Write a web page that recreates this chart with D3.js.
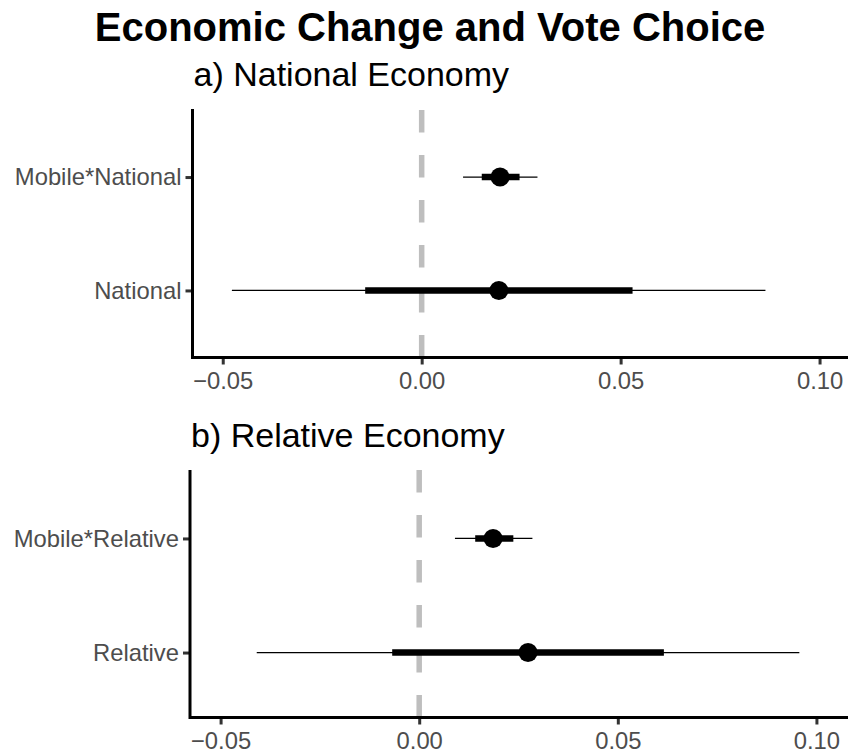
<!DOCTYPE html>
<html>
<head>
<meta charset="utf-8">
<script src="https://cdn.jsdelivr.net/npm/d3@7"></script>
<style>
  body { margin: 0; background: #fff; }
  svg text { font-family: "Liberation Sans", Arial, sans-serif; }
</style>
</head>
<body>
<div id="chart"></div>
<script>
// Data (estimate, inner = thick bar, outer = thin bar)
var mainTitle = "Economic Change and Vote Choice";
var panelTitles = ["a) National Economy", "b) Relative Economy"];
var xTicks = [-0.05, 0.00, 0.05, 0.10];

var nationalTerms   = ["Mobile*National", "National"];
var nationalEst     = [0.0197, 0.0194];
var nationalInnerLo = [0.0151, -0.0142];
var nationalInnerHi = [0.0246, 0.0530];
var nationalOuterLo = [0.0104, -0.0477];
var nationalOuterHi = [0.0291, 0.0864];

var relativeTerms   = ["Mobile*Relative", "Relative"];
var relativeEst     = [0.0186, 0.0274];
var relativeInnerLo = [0.0141, -0.0068];
var relativeInnerHi = [0.0237, 0.0616];
var relativeOuterLo = [0.0090, -0.0409];
var relativeOuterHi = [0.0285, 0.0957];

function buildRows(terms, est, inLo, inHi, outLo, outHi) {
  return terms.map(function(t, i) {
    return {term: t, est: est[i], inLo: inLo[i], inHi: inHi[i], outLo: outLo[i], outHi: outHi[i]};
  });
}

var width = 848, height = 755;

var svg = d3.select("#chart").append("svg")
  .attr("width", width)
  .attr("height", height);

// Main title
svg.append("text")
  .attr("x", 430)
  .attr("y", 41)
  .attr("text-anchor", "middle")
  .style("font-size", "40px")
  .style("font-weight", "bold")
  .attr("fill", "#000")
  .text(mainTitle);

/*
 * drawPanel - one coefficient plot
 * box -- {left, right, top, bottom, xDomain, titleY}
 */
function drawPanel(title, rows, box) {
  var g = svg.append("g");

  var x = d3.scaleLinear()
    .domain(box.xDomain)
    .range([box.left, box.right]);

  var y = d3.scalePoint()
    .domain(rows.map(function(d) { return d.term; }))
    .range([box.top, box.catBottom])
    .padding(0.6);

  // Panel title
  g.append("text")
    .attr("x", box.left + 1)
    .attr("y", box.titleY)
    .style("font-size", "34px")
    .attr("fill", "#000")
    .text(title);

  // Zero reference line, dashes start from the bottom like ggplot
  g.append("line")
    .attr("x1", x(0)).attr("x2", x(0))
    .attr("y1", box.bottom).attr("y2", box.top)
    .attr("stroke", "#bebebe")
    .attr("stroke-width", 5.5)
    .attr("stroke-dasharray", "22.5,22.5");

  // Outer (thin) intervals
  g.selectAll("line.outer")
    .data(rows)
    .enter()
    .append("line")
    .attr("class", "outer")
    .attr("x1", function(d) { return x(d.outLo); })
    .attr("x2", function(d) { return x(d.outHi); })
    .attr("y1", function(d) { return y(d.term); })
    .attr("y2", function(d) { return y(d.term); })
    .attr("stroke", "#000")
    .attr("stroke-width", 1.3);

  // Inner (thick) intervals
  g.selectAll("line.inner")
    .data(rows)
    .enter()
    .append("line")
    .attr("class", "inner")
    .attr("x1", function(d) { return x(d.inLo); })
    .attr("x2", function(d) { return x(d.inHi); })
    .attr("y1", function(d) { return y(d.term); })
    .attr("y2", function(d) { return y(d.term); })
    .attr("stroke", "#000")
    .attr("stroke-width", 6.5);

  // Point estimates
  g.selectAll("circle.est")
    .data(rows)
    .enter()
    .append("circle")
    .attr("class", "est")
    .attr("cx", function(d) { return x(d.est); })
    .attr("cy", function(d) { return y(d.term); })
    .attr("r", 9.5)
    .attr("fill", "#000");

  // Axes
  var xAxis = d3.axisBottom(x)
    .tickValues(xTicks)
    .tickFormat(d3.format(".2f"))
    .tickSize(7)
    .tickPadding(8);

  var yAxis = d3.axisLeft(y)
    .tickSize(7)
    .tickPadding(4);

  var gx = g.append("g")
    .attr("transform", "translate(0," + box.bottom + ")")
    .call(xAxis);

  var gy = g.append("g")
    .attr("transform", "translate(" + box.left + ",0)")
    .call(yAxis);

  [gx, gy].forEach(function(a) {
    a.select(".domain").remove();
    a.selectAll(".tick line")
      .attr("stroke", "#333")
      .attr("stroke-width", 3);
    a.selectAll(".tick text")
      .attr("fill", "#4d4d4d")
      .style("font-size", "23.8px")
      .style("font-family", "'Liberation Sans', Arial, sans-serif");
  });
  gx.selectAll(".tick text").attr("dy", "0.71em");

  // Axis lines (L shape)
  g.append("path")
    .attr("d", "M" + box.left + "," + box.top + "V" + box.bottom + "H" + box.right)
    .attr("fill", "none")
    .attr("stroke", "#000")
    .attr("stroke-width", 3);
}

drawPanel(panelTitles[0],
  buildRows(nationalTerms, nationalEst, nationalInnerLo, nationalInnerHi, nationalOuterLo, nationalOuterHi),
  {left: 192.5, right: 849, top: 109, bottom: 357.5, catBottom: 358.5, xDomain: [-0.0576, 0.1074], titleY: 86});

drawPanel(panelTitles[1],
  buildRows(relativeTerms, relativeEst, relativeInnerLo, relativeInnerHi, relativeOuterLo, relativeOuterHi),
  {left: 190, right: 849, top: 470, bottom: 717.5, catBottom: 721, xDomain: [-0.0577, 0.1082], titleY: 447});
</script>
</body>
</html>
